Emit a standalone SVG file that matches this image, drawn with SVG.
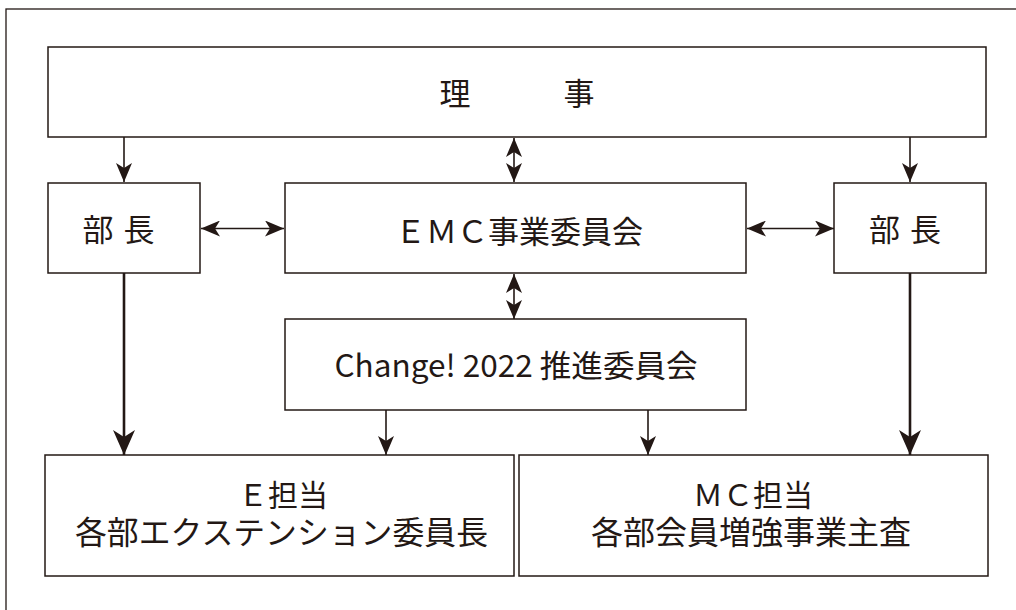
<svg xmlns="http://www.w3.org/2000/svg" width="1016" height="610" viewBox="0 0 1016 610">
<style>
.box{fill:#fff;stroke:#231815;stroke-width:1.5}
.t{font-family:"Noto Sans CJK JP","Noto Sans",sans-serif;fill:#231815;text-anchor:middle}
.t2{font-family:"Liberation Sans","Noto Sans CJK JP",sans-serif;fill:#231815;text-anchor:middle}
.c{fill:none;stroke:#231815;stroke-width:1.6}
.ct{fill:none;stroke:#231815;stroke-width:2.6}
</style>
<defs>
<marker id="ah" markerUnits="userSpaceOnUse" markerWidth="19" markerHeight="16" refX="19" refY="8" orient="auto-start-reverse" viewBox="0 0 19 16">
<path d="M0,0 L19,8 L0,16 L5,8 Z" fill="#231815"/>
</marker>
<marker id="ahb" markerUnits="userSpaceOnUse" markerWidth="25" markerHeight="22" refX="25" refY="11" orient="auto" viewBox="0 0 25 22">
<path d="M0,0 L25,11 L0,22 L7,11 Z" fill="#231815"/>
</marker>
</defs>
<rect x="6" y="9" width="1030" height="620" fill="#fff" stroke="#231815" stroke-width="1.3"/>
<g id="connectors">
<line class="c" x1="124" y1="137" x2="124" y2="182" marker-end="url(#ah)"/>
<line class="c" x1="910" y1="137" x2="910" y2="182" marker-end="url(#ah)"/>
<line class="c" x1="514" y1="138" x2="514" y2="182" marker-start="url(#ah)" marker-end="url(#ah)"/>
<line class="c" x1="201" y1="228.5" x2="284" y2="228.5" marker-start="url(#ah)" marker-end="url(#ah)"/>
<line class="c" x1="747" y1="228.5" x2="834" y2="228.5" marker-start="url(#ah)" marker-end="url(#ah)"/>
<line class="c" x1="514" y1="274" x2="514" y2="319" marker-start="url(#ah)" marker-end="url(#ah)"/>
<line class="c" x1="386" y1="410" x2="386" y2="455" marker-end="url(#ah)"/>
<line class="c" x1="648" y1="410" x2="648" y2="455" marker-end="url(#ah)"/>
<line class="ct" x1="124" y1="273" x2="124" y2="455" marker-end="url(#ahb)"/>
<line class="ct" x1="910" y1="273" x2="910" y2="455" marker-end="url(#ahb)"/>
</g>
<g id="riji">
<rect class="box" x="48" y="47" width="938" height="90"/>
<text class="t" x="517" y="104.5" font-size="31">理　　　事</text>
</g>
<g id="bucho-left">
<rect class="box" x="48" y="183" width="152" height="90"/>
<text class="t" x="123.5" y="241" font-size="31" letter-spacing="10">部長</text>
</g>
<g id="emc">
<rect class="box" x="285" y="183" width="461" height="90"/>
<text class="t" x="519" y="243" font-size="31">ＥＭＣ事業委員会</text>
</g>
<g id="bucho-right">
<rect class="box" x="834" y="183" width="152" height="90"/>
<text class="t" x="910" y="241" font-size="31" letter-spacing="10">部長</text>
</g>
<g id="change">
<rect class="box" x="285" y="319" width="461" height="91"/>
<text class="t" x="516" y="377" font-size="31" textLength="363" lengthAdjust="spacingAndGlyphs">Change! 2022 推進委員会</text>
</g>
<g id="e-tanto">
<rect class="box" x="45" y="455" width="469" height="121"/>
<text class="t2" x="283" y="506" font-size="30">Ｅ担当</text>
<text class="t2" x="281.5" y="543.5" font-size="32" textLength="413" lengthAdjust="spacingAndGlyphs">各部エクステンション委員長</text>
</g>
<g id="mc-tanto">
<rect class="box" x="519" y="455" width="469" height="121"/>
<text class="t2" x="753" y="506" font-size="30">ＭＣ担当</text>
<text class="t2" x="751" y="543.5" font-size="32" textLength="320" lengthAdjust="spacingAndGlyphs">各部会員増強事業主査</text>
</g>
</svg>
